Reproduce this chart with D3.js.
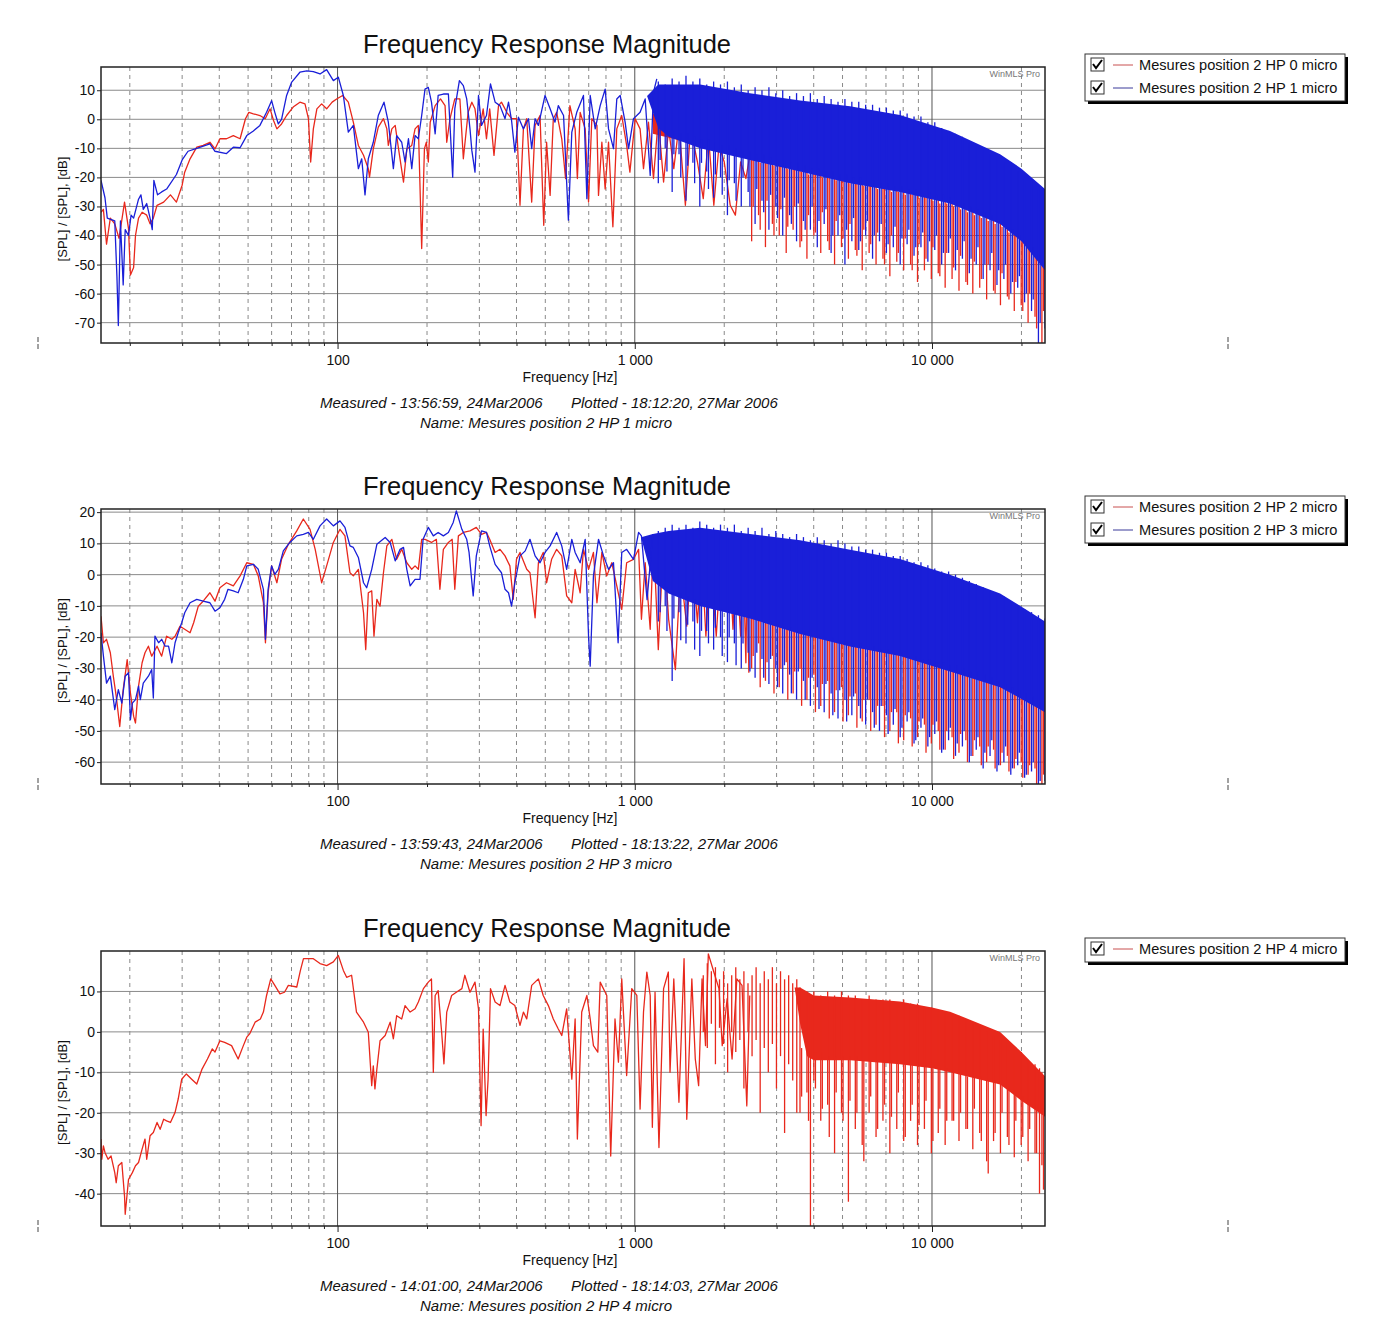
<!DOCTYPE html>
<html>
<head>
<meta charset="utf-8">
<script src="https://cdn.jsdelivr.net/npm/d3@7"></script>
<style>
  body { margin: 0; background: #fff; }
  text { font-family: "Liberation Sans", Arial, sans-serif; fill: #111; }
</style>
</head>
<body>
<script>
// ---- data (frequency in Hz, level in dB) ----
// line: traced curve, band: [f, top, bottom] of the dense filled part,
// strokes: [f, top, bottom] single vertical excursions in the dense part

// panel 1 : HP 0 micro (red) / HP 1 micro (blue)
const p1Red = [[16,-32],[16.3,-31],[16.7,-43],[17.2,-34],[17.8,-36],[18.4,-41],[19.2,-28.5],[19.8,-37.6],[20.1,-53.6],[20.6,-51],[20.9,-40],[21.4,-34],[22,-32],[22.8,-33],[23.4,-36],[24,-34],[24.7,-29.6],[26,-28.5],[27.4,-26],[28.7,-28.5],[30,-22.7],[30.6,-18.2],[31.9,-13.6],[33.6,-9.6],[35.3,-9],[37.2,-7.9],[38.7,-10.2],[40.2,-6.7],[42.3,-6.7],[44.6,-5.6],[47,-6.7],[49,0.2],[50.3,2.4],[52.1,1.9],[54.8,1.3],[57.1,0.2],[59.3,3.6],[60.9,-0.4],[62.5,-3.3],[64.8,-1.6],[67.4,1.3],[70.9,4.2],[74.7,5.9],[77.7,5.3],[79.8,0.2],[81.2,-14.7],[82.9,-3.3],[85.2,3.6],[88.4,5.3],[91.9,3.6],[95.9,5.9],[99.3,7],[104,8.2],[108.7,5.9],[113,-1],[117.5,-9],[122.3,-12.4],[126.9,-17],[128.1,-19.9],[131.9,-10.2],[137.1,-2.7],[142.7,0.2],[146.5,-3.3],[148.2,-9],[152.3,-3.3],[156.3,-2.1],[160.4,-10.2],[166.7,-21.6],[171,-10.2],[177.7,-9],[182.3,-3.3],[187,-2.1],[191.9,-44.5],[196,-10.2],[199,-7.9],[202,-14.7],[205,-1],[213,4.7],[222,7],[230,4.7],[233,-7.9],[239,0.2],[248,7],[258,7],[265,-13.6],[275,2.4],[283,5.9],[290,3.6],[298,-5.6],[309,3.6],[317,-6.7],[325,3.6],[336,-12.4],[348,4.7],[356,5.9],[371,2.4],[385,0.2],[400,0.2],[411,-29.6],[422,-3.3],[433,0.2],[450,-28.5],[462,-2.1],[480,1.3],[494,-36.5],[505,-7.9],[519,-26.2],[532,0.2],[546,2.4],[568,-6.7],[585,-20.4],[605,4.7],[630,-3.3],[641,-20.4],[655,2.4],[681,-3.3],[699,-28.5],[717,0.2],[746,-2.1],[755,-26.2],[775,-7.9],[795,-24],[816,-7.9],[844,-37],[870,-3.3],[904,1.3],[939,-9],[963,-18.2],[1003,0.2],[1042,-3.3],[1070,-17],[1112,-1],[1156,-20.4],[1200,0.2],[1250,-21.6],[1300,-3.3],[1353,-17],[1408,-2.1],[1480,-29.6],[1540,-3.3],[1625,-14.7],[1700,-27.3],[1770,-5.6],[1845,-29.6],[1920,-9],[2000,-14.7],[2095,-29.6],[2180,-33],[2270,-14.7],[2365,-20.4],[2460,-10.1]];
const p1RedBand = [[1150,2,-5],[1660,-1,-9],[2440,-3,-12],[3600,-6,-16],[5300,-10,-20],[7800,-14,-23],[11500,-19,-27],[16950,-26,-34],[20000,-30,-40],[24000,-38,-50]];
const p1RedStrokes = [[2473,-5,-42],[2609,-6,-33],[2752,-5,-44],[2904,-7,-36],[3063,-6,-40],[3232,-8,-46],[3410,-7,-38],[3597,-9,-44],[3795,-8,-48],[4004,-10,-40],[4224,-9,-46],[4456,-11,-42],[4701,-10,-50],[4960,-12,-44],[5233,-11,-48],[5521,-13,-45],[5824,-12,-52],[6145,-14,-46],[6483,-13,-50],[6839,-15,-48],[7215,-14,-54],[7612,-16,-49],[8031,-17,-52],[8473,-16,-50],[8939,-18,-56],[9430,-19,-52],[9949,-20,-55],[10497,-20,-53],[11074,-22,-58],[11683,-22,-55],[12326,-24,-59],[13003,-25,-56],[13719,-26,-60],[14473,-27,-58],[15270,-29,-62],[16110,-30,-59],[16996,-32,-64],[17931,-33,-61],[18917,-35,-66],[19957,-36,-64],[21054,-38,-70],[22212,-40,-68],[23434,-43,-77],
  [2503,-14,-30],[2642,-15,-38],[2786,-15,-28],[2940,-16,-40],[3101,-16,-31],[3272,-17,-37],[3452,-17,-30],[3642,-18,-42],[3842,-19,-33],[4054,-19,-39],[4276,-20,-32],[4512,-20,-45],[4760,-21,-35],[5021,-21,-41],[5298,-22,-36],[5589,-22,-47],[5897,-23,-38],[6220,-23,-43],[6562,-24,-39],[6923,-24,-50],[7305,-25,-40],[7706,-25,-46],[8130,-26,-41],[8577,-26,-52],[9049,-27,-43],[9547,-27,-48],[10072,-28,-44],[10626,-29,-54],[11210,-29,-46],[11827,-30,-51],[12478,-31,-47],[13163,-32,-57],[13888,-33,-49],[14652,-34,-55],[15458,-35,-50],[16307,-36,-60],[17205,-37,-53],[18151,-39,-62],[19149,-40,-56],[20202,-42,-66],[21314,-44,-60],[22486,-47,-72],[23722,-50,-66]];
const p1Blue = [[16,-21],[16.5,-27],[16.8,-34],[17.8,-35],[18.1,-54],[18.3,-71],[18.6,-35],[19,-57],[19.3,-38],[19.8,-40],[20.2,-33],[20.6,-34],[21.4,-27.5],[21.8,-26],[22.2,-31],[22.8,-29],[23.4,-34],[23.8,-38],[24.1,-21],[24.8,-26],[25.6,-25],[26.6,-24],[28.7,-19],[30,-14],[31.4,-11],[33.6,-10],[37.2,-8.5],[38.7,-11],[42.3,-11.8],[44.6,-9.6],[47,-9.8],[49.5,-5.6],[52.1,-4],[54.8,-2.1],[57.7,2.4],[60,6.4],[61.5,2.4],[63.2,-1.6],[64.8,0],[67.4,8.2],[70,12.7],[74.7,16.2],[78.8,16.7],[82.9,16.4],[87.3,15.6],[91.9,17.1],[96.8,13.3],[100.6,14.5],[104.6,8.2],[108.7,-4.4],[113,-2.1],[117.5,-17],[120.6,-13.6],[123.7,-26],[126.9,-13.6],[131.9,-7.9],[137.1,1.3],[143.3,5.9],[148.2,-1],[154.1,-17],[158.1,-5.6],[164.4,-7.9],[168.7,-14.7],[173.2,-6.7],[177.7,-17],[182.3,-5.6],[187,-6.7],[191.9,1.3],[196.9,10.4],[202,11],[207,5.9],[213,-5],[218,8.2],[227,8.7],[236,8.7],[244,-19.9],[248,3.6],[257,13.3],[265,11.6],[272,7],[279,-3.3],[283,-10.7],[290,-18.2],[298,8.2],[305,-2.1],[317,1.3],[327,12.2],[339,5.9],[352,4.7],[366,0.2],[376,5.9],[385,-0.4],[395,-11.3],[406,0.7],[422,-3.3],[439,0.2],[450,-10.1],[462,0.2],[474,-2.1],[499,8.2],[519,3.6],[539,-1],[553,4.7],[576,1.3],[598,-34.7],[614,-4.4],[638,2.4],[672,8.2],[690,-27.3],[708,8.2],[736,-3.3],[765,4.7],[795,10.4],[816,-3.3],[848,-10.1],[870,7],[893,8.2],[928,-1],[953,-10.1],[990,0.2],[1042,2.4],[1084,7],[1127,-19.3],[1156,9.3],[1186,13.9]];
const p1BlueBand = [[1100,8,8],[1200,12,-3],[1300,12,-6],[1660,12,-10],[2440,9,-14],[3600,6.5,-18],[5300,4.5,-22],[7800,1.5,-25],[11500,-4,-29],[16950,-12,-36],[20000,-17,-42],[24000,-24,-52]];
const p1BlueStrokes = [[1200,13,-22],[1266,12,-10],[1336,14,-25],[1409,13,-12],[1487,15,-28],[1569,13,-15],[1655,14,-30],[1746,12,-18],[1842,13,-27],[1943,12,-20],[2050,13,-33],[2163,11,-22],[2282,12,-30],[2407,10,-25],[2540,11,-36],[2679,10,-28],[2827,11,-38],[2982,9,-30],[3146,10,-40],[3319,8,-33],[3502,9,-42],[3694,8,-35],[3898,9,-38],[4112,7,-44],[4338,8,-36],[4577,7,-46],[4828,6,-40],[5094,7,-50],[5374,6,-42],[5670,6,-45],[5981,5,-40],[6310,5,-48],[6657,4,-42],[7024,4,-46],[7410,3,-44],[7817,3,-50],[8247,2,-43],[8701,1,-47],[9180,1,-44],[9685,-1,-49],[10217,-1,-45],[10779,-3,-50],[11372,-4,-46],[11998,-5,-52],[12657,-6,-48],[13354,-8,-53],[14088,-9,-50],[14863,-10,-55],[15680,-12,-52],[16543,-13,-57],[17453,-15,-55],[18413,-17,-60],[19425,-18,-58],[20493,-20,-63],[21621,-21,-66],[22810,-24,-77],[24000,-26,-72],
  [1217,-3,-14],[1283,-4,-18],[1354,-4,-12],[1428,-5,-20],[1507,-5,-16],[1590,-6,-22],[1677,-7,-15],[1770,-7,-24],[1867,-8,-19],[1969,-9,-26],[2078,-9,-21],[2192,-10,-28],[2313,-11,-20],[2440,-11,-30],[2574,-12,-24],[2715,-12,-32],[2865,-13,-26],[3022,-14,-34],[3188,-14,-27],[3364,-15,-36],[3549,-15,-29],[3744,-16,-38],[3950,-17,-30],[4167,-17,-35],[4397,-18,-31],[4638,-18,-40],[4893,-19,-33],[5163,-19,-38],[5447,-20,-34],[5746,-20,-42],[6062,-21,-35],[6395,-21,-40],[6747,-22,-36],[7118,-22,-43],[7510,-23,-37],[7922,-23,-41],[8358,-24,-38],[8818,-24,-44],[9304,-25,-39],[9816,-25,-42],[10355,-26,-40],[10925,-26,-46],[11526,-27,-41],[12160,-28,-45],[12828,-29,-42],[13534,-30,-48],[14278,-31,-44],[15064,-32,-50],[15892,-33,-46],[16766,-35,-52],[17689,-36,-50],[18662,-38,-56],[19687,-40,-54],[20770,-42,-60],[21912,-44,-62],[23118,-47,-70]];

// panel 2 : HP 2 micro (red) / HP 3 micro (blue)
const p2Red = [[16,-13.3],[16.3,-21.8],[16.7,-20.7],[17.2,-25],[17.6,-32.5],[18,-38.9],[18.5,-48.6],[19,-36.8],[19.6,-27.2],[20.1,-37.9],[20.6,-45.3],[20.9,-47.5],[21.4,-35.7],[22,-28.2],[22.5,-25],[23.1,-22.9],[23.7,-26.1],[24.7,-22.9],[25.6,-26.1],[26.6,-19.7],[27.7,-20.7],[28.4,-19.7],[29.5,-16.5],[30.6,-17.5],[31.9,-18.6],[32.8,-15.4],[34,-10.1],[35.3,-8.5],[37.2,-5.8],[38.7,-8.5],[40.2,-4.2],[42.3,-2.6],[44.6,-3.6],[47,-0.4],[49.5,3.8],[52.1,3.3],[54.1,-0.4],[56.3,-9],[57.2,-21.8],[58.4,-5.8],[60,2.8],[62.5,-2.6],[64.8,4.9],[68.3,9.7],[72.9,14],[76.7,17.8],[80.8,14.5],[84.1,8.1],[88.4,-2.6],[91.9,2.8],[96.8,10.3],[101.9,14.5],[105.9,12.4],[110.1,0.6],[113,-0.4],[117.5,1.7],[122.3,-12.2],[124.4,-24],[126.9,-5.8],[130.3,-5.2],[132.6,-19.7],[135.6,-7.9],[139,-10.1],[142.7,0.6],[146.5,9.2],[152.3,11.3],[158.1,4.9],[164.4,8.1],[171,3.8],[177.7,1.7],[182.3,2.8],[187,1.7],[191.9,11.3],[197,11.3],[207,10.3],[215,11.3],[221,-4.7],[227,8.1],[236,10.3],[243,11.3],[248,-4.7],[255,12.4],[265,13.5],[279,14],[293,15.1],[305,12.9],[317,13.5],[325,11.3],[339,7.1],[352,8.1],[366,6],[380,2.8],[390,-7.9],[400,4.9],[411,7.1],[433,1.7],[444,0.6],[462,-13.8],[474,3.8],[492,7.1],[505,-2.6],[525,4.9],[546,8.1],[568,6],[590,-6.8],[614,-9],[630,1.7],[655,-5.8],[672,8.1],[699,1.7],[726,7.1],[746,-9],[775,7.1],[805,-0.4],[837,3.8],[870,-3.6],[904,-11.1],[939,3.8],[990,4.9],[1030,8.1],[1053,-14.3],[1084,3.8],[1127,-17.5],[1156,12.4],[1200,-24],[1250,11.3],[1300,-14.3],[1370,-30.4],[1425,1.7],[1496,-16.5],[1560,8],[1625,-15.4],[1680,6],[1735,-19.7],[1800,5],[1880,-19.7],[1950,5],[2035,-6.8],[2080,6],[2140,-17.5],[2200,5],[2270,-19.7],[2320,4],[2365,-28.2],[2390,4],[2420,-31.4]];
const p2RedBand = [[1500,6,-7],[2440,4,-12],[3600,1,-17],[5300,-2,-21],[7800,-5,-24],[11500,-9,-29],[16950,-13,-34],[24000,-22,-42]];
const p2RedStrokes = [[2473,6,-30],[2609,5,-22],[2752,6,-34],[2904,4,-26],[3063,5,-36],[3232,3,-28],[3410,4,-38],[3597,3,-30],[3795,2,-40],[4004,3,-32],[4224,1,-42],[4456,2,-34],[4701,0,-44],[4960,1,-36],[5233,-1,-45],[5521,0,-38],[5824,-2,-47],[6145,-1,-40],[6483,-3,-48],[6839,-2,-42],[7215,-4,-50],[7612,-3,-44],[8031,-5,-53],[8473,-4,-46],[8939,-6,-52],[9430,-6,-48],[9949,-7,-54],[10497,-8,-50],[11074,-9,-56],[11683,-9,-52],[12326,-10,-57],[13003,-11,-53],[13719,-12,-58],[14473,-12,-55],[15270,-13,-60],[16110,-14,-56],[16996,-15,-61],[17931,-16,-58],[18917,-17,-62],[19957,-18,-60],[21054,-19,-64],[22212,-20,-62],[23434,-22,-67],
  [2503,-12,-26],[2642,-13,-36],[2786,-13,-28],[2940,-14,-38],[3101,-15,-30],[3272,-15,-40],[3452,-16,-31],[3642,-17,-42],[3842,-17,-33],[4054,-18,-44],[4276,-18,-35],[4512,-19,-46],[4760,-19,-37],[5021,-20,-47],[5298,-21,-39],[5589,-21,-49],[5897,-22,-40],[6220,-22,-50],[6562,-23,-42],[6923,-23,-52],[7305,-24,-44],[7706,-24,-54],[8130,-25,-45],[8577,-25,-55],[9049,-26,-47],[9547,-26,-57],[10072,-27,-48],[10626,-28,-56],[11210,-28,-50],[11827,-29,-59],[12478,-29,-51],[13163,-30,-60],[13888,-30,-53],[14652,-31,-61],[15458,-32,-55],[16307,-33,-62],[17205,-34,-57],[18151,-35,-63],[19149,-36,-59],[20202,-37,-65],[21314,-38,-61],[22486,-40,-67],[23722,-42,-64]];
const p2Blue = [[16,-18.6],[16.3,-26],[16.7,-34.7],[17.2,-32.5],[17.8,-43.2],[18.3,-36.8],[18.8,-41.1],[19.3,-32.5],[19.8,-31.4],[20.1,-46.4],[20.4,-41.1],[20.9,-40],[21.4,-35.7],[21.7,-40],[22.2,-34.7],[23.1,-32.5],[23.7,-30.4],[24,-39.5],[24.3,-19.7],[25,-21.8],[25.6,-20.7],[26.3,-22.9],[27,-22.9],[27.7,-28.2],[28.4,-21.8],[29.1,-18.6],[29.9,-15.4],[30.6,-12.2],[31.9,-9],[33.6,-7.9],[35.3,-8.5],[37.2,-9],[38.7,-11.7],[40.2,-10.6],[41.7,-7.9],[42.8,-4.7],[44.6,-5.2],[46.3,-5.8],[48.2,-1.5],[49.5,2.8],[52.1,3.3],[54.1,1.7],[56.3,-4.7],[57.2,-20.7],[58.4,-4.7],[60,2.8],[61.5,0.1],[63.2,1.7],[65.7,7.6],[69.1,10.3],[72.9,12.4],[76.7,12.9],[79.8,13.5],[82.9,11.3],[87.3,15.6],[91.9,17.8],[96.8,15.6],[101.9,17.2],[105.9,15.1],[110.1,9.2],[113,8.7],[117.5,5.5],[122.3,-2.6],[125.3,-4.2],[130.3,1.7],[135.6,9.7],[144.6,11.9],[150.3,10.3],[156.3,4.4],[162.3,8.1],[166.7,8.7],[171,1.7],[175.5,-3.6],[182.3,-1.5],[189.4,-1.5],[194,11.3],[202,15.1],[210,12.4],[218,13.5],[227,12.4],[236,13.5],[245,16.7],[251,20.4],[262,14.5],[272,11.3],[277,7.1],[286,-6.8],[293,6],[305,14],[317,13.5],[325,9.2],[339,3.3],[356,0.6],[366,-4.7],[376,-5.8],[385,-10.1],[395,-2.6],[411,6],[428,7.6],[444,11.3],[462,6],[480,3.8],[499,7.1],[519,9.2],[546,13.5],[568,9.2],[590,1.7],[614,11.3],[630,7.1],[655,3.8],[681,11.3],[699,-19.7],[708,-29.3],[726,-0.4],[755,11.3],[785,6],[816,1.7],[848,3.8],[879,-21.8],[904,7.1],[939,8.1],[990,4.9],[1030,13.5],[1053,12.4],[1100,-8],[1150,13]];
const p2BlueBand = [[1050,12,12],[1150,13,-2],[1300,14,-6],[1660,15,-10],[2440,13,-14],[3600,11,-19],[5300,8,-23],[7800,5,-26],[11500,0,-31],[16950,-6,-36],[24000,-15,-44]];
const p2BlueStrokes = [[1200,14,-15],[1266,15,-10],[1336,16,-34],[1409,15,-12],[1487,16,-22],[1569,15,-15],[1655,17,-26],[1746,16,-18],[1842,15,-24],[1943,16,-20],[2050,15,-28],[2163,16,-22],[2282,14,-30],[2407,15,-25],[2540,14,-33],[2679,15,-27],[2827,13,-35],[2982,14,-30],[3146,13,-38],[3319,12,-32],[3502,13,-40],[3694,12,-34],[3898,11,-42],[4112,12,-36],[4338,11,-44],[4577,10,-38],[4828,11,-46],[5094,10,-40],[5374,9,-45],[5670,9,-42],[5981,8,-48],[6310,8,-44],[6657,7,-50],[7024,7,-45],[7410,6,-48],[7817,6,-52],[8247,5,-47],[8701,4,-54],[9180,4,-49],[9685,3,-55],[10217,2,-51],[10779,1,-57],[11372,1,-53],[11998,0,-58],[12657,-1,-55],[13354,-2,-60],[14088,-3,-56],[14863,-4,-62],[15680,-5,-58],[16543,-6,-63],[17453,-7,-60],[18413,-9,-64],[19425,-10,-61],[20493,-11,-65],[21621,-12,-63],[22810,-13,-67],[24000,-14,-66],
  [1217,-2,-12],[1283,-4,-18],[1354,-5,-14],[1428,-6,-21],[1507,-7,-16],[1590,-8,-24],[1677,-9,-18],[1770,-10,-22],[1867,-11,-17],[1969,-11,-26],[2078,-12,-20],[2192,-12,-29],[2313,-13,-22],[2440,-13,-31],[2574,-14,-25],[2715,-15,-33],[2865,-15,-27],[3022,-16,-36],[3188,-17,-29],[3364,-17,-38],[3549,-18,-31],[3744,-18,-40],[3950,-19,-33],[4167,-19,-43],[4397,-20,-35],[4638,-20,-45],[4893,-21,-37],[5163,-21,-47],[5447,-22,-39],[5746,-22,-46],[6062,-23,-40],[6395,-23,-49],[6747,-24,-42],[7118,-24,-51],[7510,-25,-43],[7922,-25,-49],[8358,-26,-44],[8818,-26,-53],[9304,-27,-46],[9816,-27,-52],[10355,-28,-47],[10925,-28,-56],[11526,-29,-49],[12160,-29,-54],[12828,-30,-50],[13534,-31,-58],[14278,-31,-52],[15064,-32,-57],[15892,-33,-53],[16766,-34,-61],[17689,-35,-55],[18662,-36,-62],[19687,-37,-57],[20770,-38,-64],[21912,-39,-60],[23118,-41,-66]];

// panel 3 : HP 4 micro (red only)
const p3Red = [[16,-26.5],[16.1,-31.5],[16.3,-28.2],[16.5,-29.8],[16.9,-31.5],[17.3,-30.7],[17.8,-34.8],[18,-37.3],[18.3,-33.1],[18.8,-32.3],[19.2,-40.6],[19.3,-45.1],[19.8,-36.5],[20.4,-34.8],[20.9,-33.1],[21.4,-32.3],[22,-29],[22.5,-26.5],[22.8,-31.5],[23.4,-25.7],[24,-24.9],[24.7,-22.4],[25.3,-24.1],[26,-21.6],[26.6,-22],[27.4,-22.4],[28.4,-19.9],[29.1,-16.6],[29.9,-11.7],[31,-10.4],[32.3,-11.7],[33.6,-12.9],[35,-9.2],[36.5,-6.7],[37.9,-4.2],[38.7,-5],[40.2,-2.2],[41.7,-2.6],[44,-3.4],[46.3,-6.7],[48.2,-3.4],[49.5,-1.3],[50.6,-0.5],[52.8,2.4],[55,3.2],[56.3,4.9],[57.7,9],[59.6,13.1],[61.5,11.5],[64,9.4],[66.3,9.8],[68.3,11.5],[72.9,11.1],[75,15.2],[76.8,18.1],[82.9,18.1],[87.3,16.9],[91.9,16.4],[96.8,17.3],[100.6,18.9],[104.6,15.2],[107.3,13.5],[111.5,14],[115.8,4.9],[122.3,2.4],[126.9,-0.1],[130.3,-13.3],[131.9,-8.4],[133.6,-14.1],[135.6,-9.2],[139,-2.2],[144.6,-0.9],[150.3,2.4],[154.1,-1.7],[158.1,4],[164.4,3.2],[168.7,6.5],[175.5,4.9],[182.3,5.7],[187,7.4],[194.5,10.7],[202,12.3],[207,13.1],[210,-10],[213,9],[218,10.2],[224,-0.1],[228,-7.9],[233,4.9],[242,9],[251,9.8],[262,10.7],[268,14],[279,9.8],[290,12.3],[298,5.7],[304,-23.2],[309,0.7],[316,-20.7],[321,-11.7],[327,10.7],[339,7.4],[352,6.5],[366,11.5],[380,7.4],[395,6.5],[411,1.6],[422,4.9],[433,3.2],[450,11.5],[474,13.1],[492,9],[512,6.5],[532,3.2],[553,0.7],[568,-0.9],[590,5.7],[614,-11.7],[630,3.2],[641,-26.5],[663,4.9],[690,9],[708,3.2],[726,-3.4],[751,-5],[765,12.3],[805,9],[830,-30.7],[858,3.2],[881,-7.5],[904,13.1],[939,-10.8],[977,10.7],[1016,9],[1042,-19.1],[1070,4.9],[1098,14.8],[1127,9],[1146,-23.6],[1170,9.8],[1206,-28.6],[1250,10.7],[1297,14.8],[1314,-10],[1353,13.1],[1408,-17.4],[1465,18.1],[1496,-21.6],[1556,13.1],[1598,-6.7],[1640,-13.3],[1684,13.1],[1730,-3.4],[1768,19.3],[1845,14.8],[1920,10.7],[1969,-3.4],[2045,8.2],[2125,-6.7],[2205,13.1],[2295,11.5],[2382,-18.3],[2437,9]];
const p3RedBand = [[3450,11,11],[3600,11,2],[3800,10,-6],[4000,9,-7],[5300,8.5,-7],[7800,7.5,-8],[10000,6,-9],[11500,5,-10],[16950,0,-13],[20000,-5,-17],[24000,-11,-21]];
const p3RedStrokes = [[1700,14,0],[1754,17,-4],[1810,15,2],[1868,16,-8],[1928,13,1],[1990,15,-3],[2053,12,-10],[2119,14,0],[2187,16,-5],[2257,13,-2],[2329,15,-14],[2404,12,0],[2481,14,-6],[2560,16,-2],[2642,12,-20],[2727,15,-4],[2814,13,-10],[2904,16,-3],[2997,12,-14],[3093,15,-6],[3192,13,-25],[3294,14,-8],[3399,12,-12],[3508,13,-20],
  [3597,11,-20],[3795,10,-15],[3900,9,-48],[4004,10,-12],[4224,9,-22],[4456,10,-18],[4701,9,-30],[4960,10,-20],[5233,9,-42],[5521,9,-24],[5824,8,-28],[6145,9,-20],[6483,8,-26],[6839,8,-22],[7215,8,-30],[7612,7,-24],[8031,8,-27],[8473,7,-22],[8939,7,-28],[9430,6,-24],[9949,6,-30],[10497,5,-25],[11074,5,-28],[11683,4,-22],[12326,4,-27],[13003,3,-24],[13719,2,-29],[14473,1,-25],[15270,0,-32],[16110,-1,-27],[16996,-2,-30],[17931,-3,-26],[18917,-4,-31],[19957,-5,-28],[21054,-7,-32],[22212,-8,-30],[23000,-9,-40],[23434,-10,-33],
  [3642,-4,-16],[3842,-5,-22],[4054,-5,-14],[4276,-5,-19],[4512,-6,-26],[4760,-6,-15],[5021,-6,-22],[5298,-6,-17],[5589,-6,-20],[5897,-7,-32],[6220,-7,-16],[6562,-7,-24],[6923,-7,-18],[7305,-7,-21],[7706,-7,-15],[8130,-8,-26],[8577,-8,-18],[9049,-8,-23],[9547,-8,-17],[10072,-9,-27],[10626,-9,-19],[11210,-9,-22],[11827,-10,-22],[12478,-10,-20],[13163,-11,-24],[13888,-11,-19],[14652,-11,-27],[15458,-12,-35],[16307,-12,-25],[17205,-13,-20],[18151,-14,-28],[19149,-15,-22],[20202,-16,-26],[21314,-17,-24],[22486,-18,-30],[23722,-19,-39]];

// axes
const freqDomain = [16, 24000];
const decadeTicks = [100, 1000, 10000];
const minorTicks = [20,30,40,50,60,70,80,90,200,300,400,500,600,700,800,900,2000,3000,4000,5000,6000,7000,8000,9000,20000];
const yTicks1 = [10,0,-10,-20,-30,-40,-50,-60,-70];
const yTicks2 = [20,10,0,-10,-20,-30,-40,-50,-60];
const yTicks3 = [10,0,-10,-20,-30,-40];

// legends and captions
const legend1 = ["Mesures position 2 HP 0 micro", "Mesures position 2 HP 1 micro"];
const legend2 = ["Mesures position 2 HP 2 micro", "Mesures position 2 HP 3 micro"];
const legend3 = ["Mesures position 2 HP 4 micro"];
const measured = ["Measured - 13:56:59, 24Mar2006", "Measured - 13:59:43, 24Mar2006", "Measured - 14:01:00, 24Mar2006"];
const plotted = ["Plotted - 18:12:20, 27Mar 2006", "Plotted - 18:13:22, 27Mar 2006", "Plotted - 18:14:03, 27Mar 2006"];
const names = ["Name: Mesures position 2 HP 1 micro", "Name: Mesures position 2 HP 3 micro", "Name: Mesures position 2 HP 4 micro"];

const RED = "#e8281c", BLUE = "#1a1fd8";

const svg = d3.select("body").append("svg")
  .attr("width", 1379)
  .attr("height", 1326);

const left = 101, right = 1045;

// one frequency response panel
function panel(i, top, bottom, yDomain, yTicks, series, legendLabels) {
  const g = svg.append("g");
  const x = d3.scaleLog().domain(freqDomain).range([left, right]);
  const y = d3.scaleLinear().domain(yDomain).range([bottom, top]);

  g.append("clipPath").attr("id", "clip" + i)
    .append("rect").attr("x", left).attr("y", top)
    .attr("width", right - left).attr("height", bottom - top);

  // title
  g.append("text")
    .attr("x", 547).attr("y", top - 14)
    .attr("text-anchor", "middle")
    .attr("textLength", 368).attr("lengthAdjust", "spacingAndGlyphs")
    .style("font-size", "25px")
    .text("Frequency Response Magnitude");

  // grid
  g.selectAll(".hgrid").data(yTicks).enter().append("line")
    .attr("x1", left).attr("x2", right)
    .attr("y1", d => y(d)).attr("y2", d => y(d))
    .attr("stroke", "#8a8a8a").attr("stroke-width", 1);
  g.selectAll(".vminor").data(minorTicks).enter().append("line")
    .attr("x1", d => x(d)).attr("x2", d => x(d))
    .attr("y1", top).attr("y2", bottom)
    .attr("stroke", "#8a8a8a").attr("stroke-dasharray", "4,4");
  g.selectAll(".vmajor").data(decadeTicks).enter().append("line")
    .attr("x1", d => x(d)).attr("x2", d => x(d))
    .attr("y1", top).attr("y2", bottom)
    .attr("stroke", "#555").attr("stroke-width", 1);

  // WinMLS mark
  g.append("text")
    .attr("x", 1040).attr("y", top + 10)
    .attr("text-anchor", "end")
    .style("font-size", "9px").style("fill", "#777")
    .text("WinMLS Pro");

  // data
  const plot = g.append("g").attr("clip-path", "url(#clip" + i + ")");
  const line = d3.line().x(d => x(d[0])).y(d => y(d[1]));
  const area = d3.area().x(d => x(d[0])).y0(d => y(d[2])).y1(d => y(d[1]));
  series.forEach(s => {
    plot.append("path").datum(s.band)
      .attr("d", area).attr("fill", s.color);
    plot.append("path").datum(s.line)
      .attr("d", line).attr("fill", "none")
      .attr("stroke", s.color).attr("stroke-width", 1.3)
      .attr("stroke-linejoin", "round");
    plot.append("g").selectAll("line").data(s.strokes).enter().append("line")
      .attr("x1", d => x(d[0])).attr("x2", d => x(d[0]))
      .attr("y1", d => y(d[1])).attr("y2", d => y(d[2]))
      .attr("stroke", s.color).attr("stroke-width", 1.3);
  });

  // frame
  g.append("rect")
    .attr("x", left).attr("y", top)
    .attr("width", right - left).attr("height", bottom - top)
    .attr("fill", "none").attr("stroke", "#222").attr("stroke-width", 1.5);

  // axes
  const fmt = d => d3.format(",")(d).replace(/,/g, " ");
  const xMajor = g.append("g").attr("transform", "translate(0," + bottom + ")")
    .call(d3.axisBottom(x).tickValues(decadeTicks).tickFormat(fmt).tickSize(6).tickSizeOuter(0));
  const xMinor = g.append("g").attr("transform", "translate(0," + bottom + ")")
    .call(d3.axisBottom(x).tickValues(minorTicks).tickFormat("").tickSize(3).tickSizeOuter(0));
  const yAxis = g.append("g").attr("transform", "translate(" + left + ",0)")
    .call(d3.axisLeft(y).tickValues(yTicks).tickFormat(d => String(d)).tickSize(4).tickSizeOuter(0).tickPadding(2));
  [xMajor, xMinor, yAxis].forEach(a => {
    a.select(".domain").remove();
    a.selectAll("line").attr("stroke", "#222");
    a.selectAll("text").style("font-size", "14px").style("font-family", "Liberation Sans, Arial, sans-serif").attr("fill", "#111");
  });
  xMajor.selectAll("text").attr("dy", "0.9em");

  // axis labels
  g.append("text")
    .attr("x", 570).attr("y", bottom + 39)
    .attr("text-anchor", "middle")
    .style("font-size", "14px")
    .text("Frequency [Hz]");
  g.append("text")
    .attr("transform", "translate(67," + ((top + bottom) / 2 + 4) + ") rotate(-90)")
    .attr("text-anchor", "middle")
    .style("font-size", "13px")
    .text("[SPL] / [SPL], [dB]");

  // footer
  g.append("text").attr("x", 320).attr("y", bottom + 65)
    .style("font-size", "15px").style("font-style", "italic").text(measured[i]);
  g.append("text").attr("x", 571).attr("y", bottom + 65)
    .style("font-size", "15px").style("font-style", "italic").text(plotted[i]);
  g.append("text").attr("x", 420).attr("y", bottom + 85)
    .style("font-size", "15px").style("font-style", "italic").text(names[i]);

  // small side marks
  [38, 1228].forEach(mx => {
    g.append("line").attr("x1", mx).attr("x2", mx)
      .attr("y1", bottom - 6).attr("y2", bottom + 6)
      .attr("stroke", "#444").attr("stroke-dasharray", "5,2");
  });

  // legend
  const lx = 1085, ly = top - 13, rowH = 23;
  const boxH = rowH * legendLabels.length + 1;
  const lg = g.append("g");
  lg.append("rect").attr("x", lx + 3).attr("y", ly + 3)
    .attr("width", 260).attr("height", boxH).attr("fill", "#000");
  lg.append("rect").attr("x", lx).attr("y", ly)
    .attr("width", 260).attr("height", boxH)
    .attr("fill", "#fff").attr("stroke", "#333");
  legendLabels.forEach((lab, j) => {
    const cy = ly + 11 + j * rowH;
    lg.append("rect").attr("x", lx + 6).attr("y", cy - 7)
      .attr("width", 13).attr("height", 13)
      .attr("fill", "#fff").attr("stroke", "#333");
    lg.append("path")
      .attr("d", "M" + (lx + 8) + "," + (cy - 1) + " l3,4 l6,-8")
      .attr("fill", "none").attr("stroke", "#000").attr("stroke-width", 2);
    lg.append("line").attr("x1", lx + 28).attr("x2", lx + 48)
      .attr("y1", cy).attr("y2", cy)
      .attr("stroke", series[j].color === RED ? "#c85050" : "#3a3a9a");
    lg.append("text").attr("x", lx + 54).attr("y", cy + 5)
      .style("font-size", "14.6px").text(lab);
  });
}

panel(0, 67, 343, [-77, 18], yTicks1,
  [{ line: p1Red, band: p1RedBand, strokes: p1RedStrokes, color: RED },
   { line: p1Blue, band: p1BlueBand, strokes: p1BlueStrokes, color: BLUE }], legend1);
panel(1, 509, 784, [-67, 21], yTicks2,
  [{ line: p2Red, band: p2RedBand, strokes: p2RedStrokes, color: RED },
   { line: p2Blue, band: p2BlueBand, strokes: p2BlueStrokes, color: BLUE }], legend2);
panel(2, 951, 1226, [-48, 20], yTicks3,
  [{ line: p3Red, band: p3RedBand, strokes: p3RedStrokes, color: RED }], legend3);
</script>
</body>
</html>
